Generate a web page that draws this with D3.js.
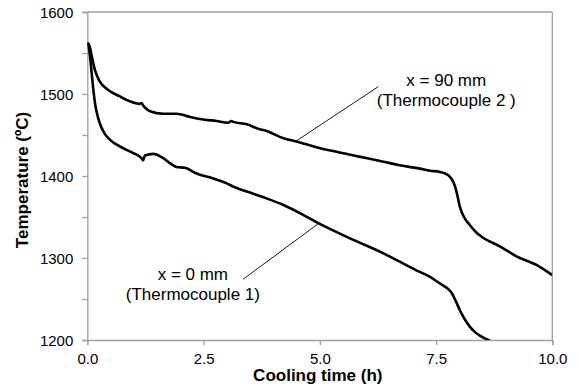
<!DOCTYPE html>
<html>
<head>
<meta charset="utf-8">
<script src="https://cdn.jsdelivr.net/npm/d3@7"></script>
<style>
  body { margin: 0; background: #fff; }
  svg { display: block; font-family: "Liberation Sans", Arial, sans-serif; }
</style>
</head>
<body>
<svg></svg>
<script>
// cooling curves (time in h, temperature in °C)
let tc2Time = [0, 0.03, 0.06, 0.1, 0.165, 0.27, 0.45, 0.70, 0.92, 1.12, 1.17, 1.2, 1.25, 1.35, 1.63, 1.92, 2.21, 2.49, 2.78, 3.03, 3.1, 3.14, 3.43, 3.71, 3.79, 4.22, 4.50, 4.93, 5.65, 6.37, 6.72, 7.15, 7.37, 7.58, 7.70, 7.80, 7.86, 7.91, 7.96, 8.01, 8.1, 8.23, 8.35, 8.48, 8.88, 9.23, 9.66, 10.0];
let tc2Temp = [1562, 1561, 1556, 1545, 1529, 1515, 1505, 1497, 1491, 1488, 1489, 1486, 1483, 1479, 1476, 1476, 1472, 1469, 1467, 1465, 1467, 1466, 1463, 1457, 1456, 1446, 1442, 1435, 1426, 1417.5, 1413, 1409, 1406.5, 1405, 1403, 1399, 1394, 1387, 1376, 1363, 1350, 1340, 1332, 1326, 1314, 1302, 1291.5, 1279];

let tc1Time = [0, 0.02, 0.04, 0.07, 0.095, 0.13, 0.165, 0.21, 0.27, 0.37, 0.49, 0.77, 0.99, 1.12, 1.17, 1.2, 1.24, 1.42, 1.6, 1.78, 1.85, 1.92, 2.10, 2.35, 2.71, 3.0, 3.14, 3.43, 3.79, 4.22, 4.65, 5.0, 5.65, 6.37, 6.72, 7.15, 7.37, 7.58, 7.72, 7.84, 7.92, 8.01, 8.12, 8.23, 8.35, 8.45, 8.55, 8.66, 8.72];
let tc1Temp = [1562, 1560, 1554, 1540, 1525, 1505, 1489, 1476, 1464, 1452, 1444, 1434, 1428, 1424, 1421.5, 1419, 1425, 1427, 1423, 1415.5, 1413, 1411, 1410, 1403, 1397, 1391, 1387, 1381, 1374, 1364.6, 1352.4, 1341.5, 1324, 1305.7, 1295.5, 1283, 1277, 1269, 1264, 1257, 1248, 1236.6, 1225, 1216, 1209, 1205, 1202, 1199, 1197];

let xTicks = [0, 2.5, 5, 7.5, 10];
let yTicks = [1200, 1250, 1300, 1350, 1400, 1450, 1500, 1550, 1600];
let yLabels = [1200, 1300, 1400, 1500, 1600];

// labels: [text line 1, text line 2], anchor (t, T) and leader line ends
let labelLines = [['x = 90 mm', '(Thermocouple 2 )'], ['x = 0 mm', '(Thermocouple 1)']];
let labelAt = [[7.72, 1510], [2.27, 1273]];
let leaders = [[[6.26, 1509], [4.50, 1443]], [[3.35, 1274], [4.97, 1342]]];

let w = 579;
let h = 388;
let padL = 87.3, padR = 552.3, padT = 12, padB = 340;
let axisCol = '#a0a0a0';

let svg = d3.select('svg').attr('width', w).attr('height', h);

let xScale = d3.scaleLinear().domain([0, 10]).range([padL, padR]);
let yScale = d3.scaleLinear().domain([1200, 1600]).range([padB, padT]);

// frame top / right
svg.append('line')
   .attr('x1', padL).attr('x2', padR).attr('y1', padT).attr('y2', padT)
   .attr('stroke', axisCol).attr('stroke-width', 1.3);
svg.append('line')
   .attr('x1', padR).attr('x2', padR).attr('y1', padT).attr('y2', padB)
   .attr('stroke', axisCol).attr('stroke-width', 1.3);

let xAxis = d3.axisBottom(xScale).tickValues(xTicks).tickSize(5).tickFormat(d3.format('.1f'));
let gx = svg.append('g')
   .attr('transform', 'translate(0,' + padB + ')')
   .call(xAxis);

let yAxis = d3.axisLeft(yScale).tickValues(yTicks).tickSize(5)
   .tickFormat(d => yLabels.includes(d) ? d : '');
let gy = svg.append('g')
   .attr('transform', 'translate(' + padL + ',0)')
   .call(yAxis);

[gx, gy].forEach(g => {
  g.select('.domain').attr('stroke', axisCol).attr('stroke-width', 1.3);
  g.selectAll('.tick line').attr('stroke', axisCol).attr('stroke-width', 1.3);
  g.selectAll('.tick text')
   .attr('fill', '#000')
   .style('font-size', '15px')
   .style('font-family', '"Liberation Sans", Arial, sans-serif');
});
gx.selectAll('.tick text').attr('y', 13);
gy.selectAll('.tick text').attr('x', -14).attr('dy', '0.36em');

svg.append('clipPath').attr('id', 'plot')
   .append('rect')
   .attr('x', padL).attr('y', padT)
   .attr('width', padR - padL).attr('height', padB - padT);

let line = d3.line()
   .x(d => xScale(d[0]))
   .y(d => yScale(d[1]))
   .curve(d3.curveMonotoneX);

let series = [d3.zip(tc2Time, tc2Temp), d3.zip(tc1Time, tc1Temp)];
svg.append('g').attr('clip-path', 'url(#plot)')
   .selectAll('path')
   .data(series)
   .enter()
   .append('path')
   .attr('d', line)
   .attr('fill', 'none')
   .attr('stroke', '#000')
   .attr('stroke-width', 2.6)
   .attr('stroke-linejoin', 'round');

// annotation leaders and text
svg.selectAll('.leader')
   .data(leaders)
   .enter()
   .append('line')
   .attr('class', 'leader')
   .attr('x1', d => xScale(d[0][0])).attr('y1', d => yScale(d[0][1]))
   .attr('x2', d => xScale(d[1][0])).attr('y2', d => yScale(d[1][1]))
   .attr('stroke', '#000')
   .attr('stroke-width', 0.9);

labelLines.forEach((lines, i) => {
  let t = svg.append('text')
     .attr('text-anchor', 'middle')
     .attr('x', xScale(labelAt[i][0]))
     .attr('y', yScale(labelAt[i][1]))
     .style('font-size', '17px');
  lines.forEach((s, j) => {
    t.append('tspan')
     .attr('x', xScale(labelAt[i][0]))
     .attr('dy', j == 0 ? 0 : 20)
     .text(s);
  });
});

svg.append('text')
   .attr('x', (padL + padR) / 2 - 2)
   .attr('y', 381)
   .attr('text-anchor', 'middle')
   .style('font-size', '17px')
   .style('font-weight', 'bold')
   .text('Cooling time (h)');

svg.append('text')
   .attr('transform', 'translate(28,' + 180 + ') rotate(-90)')
   .attr('text-anchor', 'middle')
   .style('font-size', '17px')
   .style('font-weight', 'bold')
   .text('Temperature (ºC)');
</script>
</body>
</html>
